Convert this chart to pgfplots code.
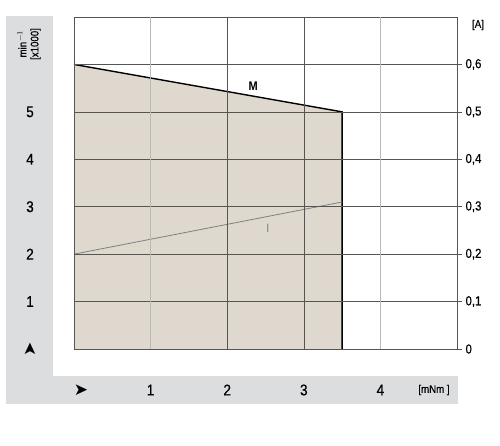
\documentclass[border=0pt]{standalone}
\usepackage{pgfplots}
\pgfplotsset{compat=1.18}
\usepackage{fontspec}
\setmainfont{Liberation Sans}[FakeStretch=0.88]
\newfontfamily\labfont{Liberation Sans}[FakeStretch=0.88, FakeBold=0.6]
\newfontfamily\symfont{DejaVu Sans}
\definecolor{panel}{RGB}{220,221,223}
\definecolor{beige}{RGB}{222,216,207}
\definecolor{gridc}{RGB}{85,85,85}
\definecolor{gridl}{RGB}{185,185,185}
\begin{document}
\begin{tikzpicture}[x=1pt,y=1pt]
\useasboundingbox (0,0) rectangle (500,445);
% grey L-shaped panels
\fill[panel] (6,41) rectangle (53,429);
\fill[panel] (6,41) rectangle (458,69);
\node[font=\labfont\fontsize{11}{12}\selectfont, rotate=90, align=center] at (29,401) {min$^{-1}$\\{}[x1000]};
\node[font=\labfont\fontsize{11}{12}\selectfont] at (434,55) {[mNm ]};
\node[font=\labfont\fontsize{11}{12}\selectfont] at (478,420) {[A]};
\node[font=\symfont\fontsize{17}{18}\selectfont] at (81,55) {➤};
\node[font=\symfont\fontsize{17}{18}\selectfont, rotate=90] at (30,96) {➤};
\begin{axis}[
  at={(74pt,96pt)}, anchor=south west,
  scale only axis, width=383pt, height=332pt,
  xmin=0, xmax=5, ymin=0, ymax=7,
  axis on top, clip=false,
  axis line style={gridc, line width=0.7pt},
  xtick={2,3}, xticklabels={2,3},
  extra x ticks={1,4}, extra x tick labels={1,4},
  extra x tick style={grid style={gridl, line width=1.3pt}},
  ytick={1,2,3,4,5,6}, yticklabels={1,2,3,4,5,},
  grid=major, grid style={gridc, line width=0.6pt},
  major tick length=0pt,
  ytick pos=left, xtick pos=bottom,
  tick label style={font=\labfont\fontsize{15.5}{17}\selectfont},
  xticklabel style={anchor=center, yshift=-41pt},
  yticklabel style={anchor=center, xshift=-44pt},
]
\addplot[fill=beige, draw=none] coordinates {(0,0) (0,6) (3.5,5) (3.5,0)} \closedcycle;
\addplot[black, line width=1.4pt] coordinates {(0,6) (3.5,5) (3.5,0)};
\addplot[gray, line width=0.8pt] coordinates {(0,2) (3.5,3.1)};
\node[font=\fontsize{12.5}{14}\selectfont\bfseries] at (axis cs:2.34,5.55) {M};
\node[font=\fontsize{12}{14}\selectfont, text=gray] at (axis cs:2.53,2.55) {I};
\end{axis}
\begin{axis}[
  at={(74pt,96pt)}, anchor=south west,
  scale only axis, width=383pt, height=332pt,
  xmin=0, xmax=5, ymin=0, ymax=0.7,
  axis x line=none, axis y line*=right,
  axis line style={gridc, line width=0.7pt},
  ytick={0,0.1,0.2,0.3,0.4,0.5,0.6},
  yticklabel style={/pgf/number format/use comma, /pgf/number format/fixed, anchor=west, font=\labfont\fontsize{13}{15}\selectfont},
  /pgf/number format/assume math mode=true,
  tick align=outside, major tick length=5pt,
  tick style={gridc, line width=0.6pt},
]
\end{axis}
\end{tikzpicture}
\end{document}
